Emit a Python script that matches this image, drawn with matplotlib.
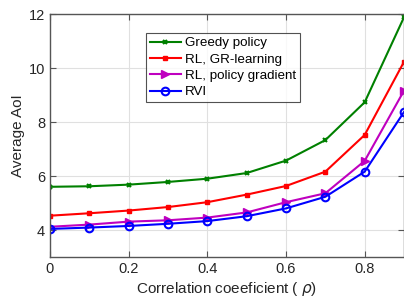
import matplotlib
matplotlib.use("Agg")
import matplotlib.pyplot as plt

plt.rcParams['font.family'] = ['Liberation Sans', 'DejaVu Sans']
plt.rcParams['mathtext.fontset'] = 'dejavusans'

rho = [0, 0.1, 0.2, 0.3, 0.4, 0.5, 0.6, 0.7, 0.8, 0.9]
greedy = [5.60, 5.62, 5.68, 5.78, 5.90, 6.11, 6.57, 7.33, 8.73, 11.88]
rl_gr = [4.53, 4.62, 4.72, 4.85, 5.03, 5.31, 5.63, 6.16, 7.52, 10.23]
rl_pg = [4.12, 4.20, 4.31, 4.36, 4.46, 4.65, 5.03, 5.36, 6.56, 9.16]
rvi = [4.04, 4.09, 4.15, 4.23, 4.33, 4.51, 4.80, 5.23, 6.16, 8.37]
labels = ['Greedy policy', 'RL, GR-learning', 'RL, policy gradient', 'RVI']

fig = plt.figure(figsize=(4.04, 3.04), dpi=100)
ax = fig.add_axes([50/404, 1-257/304, (404-50)/404, (257-14)/304])

ax.plot(rho, greedy, color='#008000', marker='x', markersize=3.5, markeredgewidth=1.5, lw=1.5, label=labels[0])
ax.plot(rho, rl_gr, color='#ff0000', marker='s', markersize=3.5, lw=1.5, label=labels[1])
ax.plot(rho, rl_pg, color='#bf00bf', marker='>', markersize=5.5, lw=1.5, label=labels[2])
ax.plot(rho, rvi, color='#0000ff', marker='o', markersize=5.5, markerfacecolor='none', markeredgewidth=1.5, lw=1.5, label=labels[3])

ax.set_xlim(0, 0.9)
ax.set_ylim(3, 12)
ax.set_xticks([0, 0.2, 0.4, 0.6, 0.8])
ax.set_xticklabels(['0', '0.2', '0.4', '0.6', '0.8'])
ax.set_yticks([4, 6, 8, 10, 12])
ax.grid(True, color='#e0e0e0', lw=0.8)
ax.set_axisbelow(True)
for s in ax.spines.values():
    s.set_color('#555555')
    s.set_linewidth(1.0)
ax.tick_params(direction='in', length=4, colors='#555555', labelcolor='#262626', labelsize=10.5, top=True, right=True)
ax.set_xlabel(r'Correlation coeeficient ( $\rho$)', fontsize=11, color='#262626', labelpad=3)
ax.set_ylabel('Average AoI', fontsize=11, color='#262626', labelpad=3)

leg = ax.legend(loc='upper left', bbox_to_anchor=((146-50)/354, 1-(33-14)/243), fontsize=9.6,
                frameon=True, fancybox=False, edgecolor='#262626', handlelength=2.3,
                borderpad=0.3, labelspacing=0.3, handletextpad=0.3, borderaxespad=0)
leg.get_frame().set_linewidth(0.8)

fig.savefig('out.png', dpi=100)
